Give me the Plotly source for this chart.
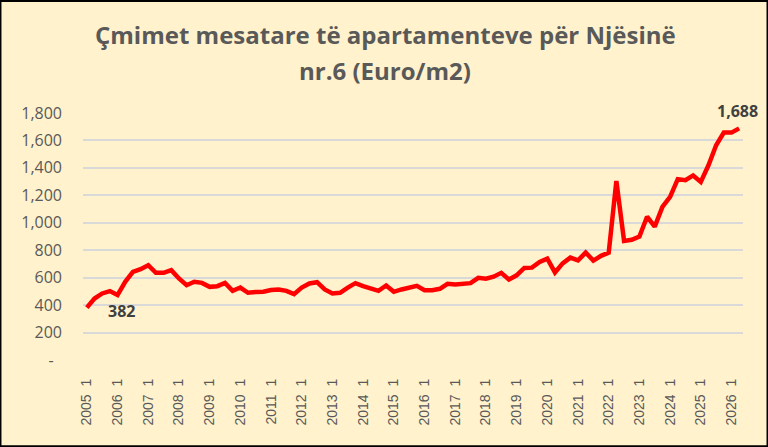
import plotly.graph_objects as go

# Quarterly average apartment price, Unit nr.6 (Euro/m2), 2005 Q1 .. 2026 Q2
YEARS = list(range(2005, 2027))
QUARTERS = [f"{y} {q}" for y in YEARS for q in (1, 2, 3, 4)][:86]

PRICES = [
    382, 448, 485, 502,     # 2005
    473, 570, 642, 662,     # 2006
    691, 635, 635, 655,     # 2007
    594, 545, 570, 562,     # 2008
    533, 538, 562, 504,     # 2009
    528, 490, 495, 497,     # 2010
    510, 514, 504, 480,     # 2011
    528, 558, 567, 514,     # 2012
    485, 490, 528, 560,     # 2013
    538, 521, 504, 543,     # 2014
    497, 514, 526, 540,     # 2015
    509, 509, 519, 555,     # 2016
    550, 556, 560, 599,     # 2017
    592, 607, 635, 587,     # 2018
    617, 671, 673, 714,     # 2019
    738, 638, 704, 746,     # 2020
    726, 783, 724, 759,     # 2021
    782, 1305, 868, 876,    # 2022
    900, 1044, 972, 1116,   # 2023
    1189, 1318, 1310, 1345, # 2024
    1298, 1419, 1565, 1657, # 2025
    1657, 1688,             # 2026
]

Y_TICKS = [0, 200, 400, 600, 800, 1000, 1200, 1400, 1600, 1800]
# accounting-style zero: dash with trailing padding
Y_TICK_TEXT = ["-\u00a0\u00a0", "200", "400", "600", "800", "1,000", "1,200", "1,400", "1,600", "1,800"]

TITLE_1 = "Çmimet mesatare të apartamenteve për Njësinë"
TITLE_2 = "nr.6 (Euro/m2)"

BG = "#FFF2CC"
GREY = "#595959"

x_ticks = QUARTERS[::4]
x_tick_text = [q.replace(" ", "\u00a0\u00a0") for q in x_ticks]

fig = go.Figure(
    go.Scatter(
        x=QUARTERS,
        y=PRICES,
        mode="lines",
        line=dict(color="#FF0000", width=4.5),
        hoverinfo="x+y",
    )
)

# data labels on first and last point
fig.add_annotation(
    x=QUARTERS[0], y=PRICES[0], text=f"<b>{PRICES[0]:,}</b>",
    showarrow=False, xshift=35, yshift=-3,
    font=dict(family="Open Sans", size=16, color="#404040"),
)
fig.add_annotation(
    x=QUARTERS[-1], y=PRICES[-1], text=f"<b>{PRICES[-1]:,}</b>",
    showarrow=False, xshift=-2, yshift=17,
    font=dict(family="Open Sans", size=16, color="#404040"),
)

# two-line title, placed as annotations to control the line gap
for txt, yy in ((TITLE_1, 1.316), (TITLE_2, 1.172)):
    fig.add_annotation(
        x=0.458, y=yy, xref="paper", yref="paper", text=f"<b>{txt}</b>",
        showarrow=False, xanchor="center", yanchor="middle",
        font=dict(family="Open Sans", size=24, color=GREY),
    )

# black frame round the chart
fig.add_shape(
    type="rect", xref="paper", yref="paper",
    x0=-0.1258, x1=1.0379, y0=-0.3515, y1=1.4553,
    line=dict(color="black", width=3), layer="above",
)

fig.update_layout(
    width=768,
    height=447,
    margin=dict(l=83, r=25, t=113, b=87),
    paper_bgcolor=BG,
    plot_bgcolor=BG,
    showlegend=False,
    xaxis=dict(
        type="category",
        range=[-0.5, 85.5],
        tickvals=x_ticks,
        ticktext=x_tick_text,
        tickangle=-90,
        showgrid=False,
        showline=False,
        ticks="",
        ticklabelstandoff=15,
        tickfont=dict(family="Liberation Sans", size=14, color=GREY),
    ),
    yaxis=dict(
        range=[0, 1800],
        tickvals=Y_TICKS,
        ticktext=Y_TICK_TEXT,
        gridcolor="#D9D9D9",
        gridwidth=1.5,
        zeroline=False,
        showline=False,
        ticks="",
        ticklabelstandoff=20,
        tickfont=dict(family="Open Sans", size=16, color=GREY),
    ),
)

fig.write_html(
    "out.html",
    config={"displayModeBar": False},
    post_script="document.body.style.margin='0';",
)
